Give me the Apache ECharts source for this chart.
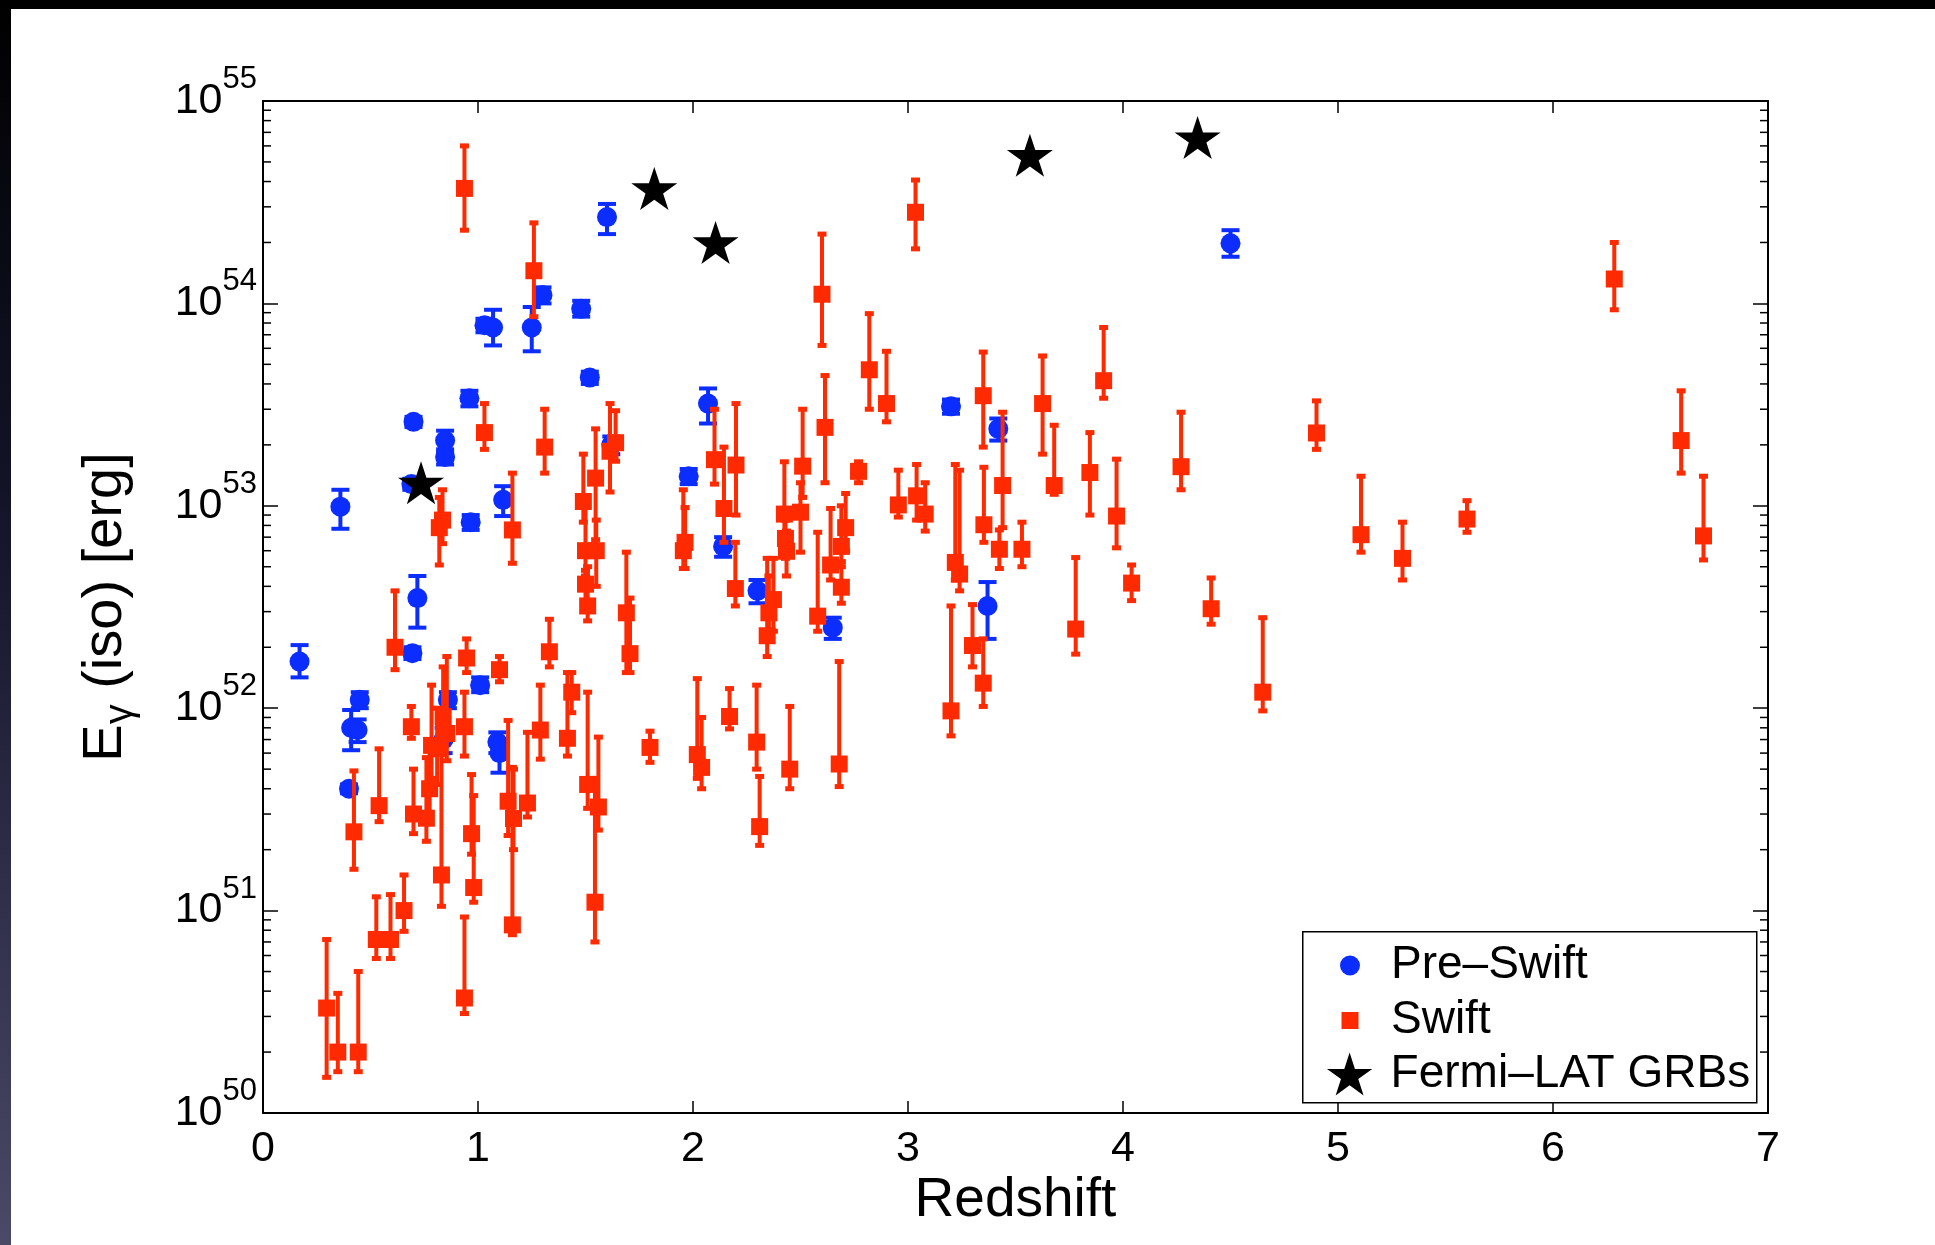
<!DOCTYPE html>
<html>
<head>
<meta charset="utf-8">
<script src="https://cdn.jsdelivr.net/npm/echarts@6/dist/echarts.min.js"></script>
<style>
html,body{margin:0;padding:0;background:#fff;}
#chart{width:1935px;height:1245px;}
</style>
</head>
<body>
<div id="chart"></div>
<script>
// ---- data: [redshift, E_iso (erg), lower error, upper error] ----
const xTickValues = [0, 1, 2, 3, 4, 5, 6, 7];
const yDecades = [50, 51, 52, 53, 54, 55];

const preSwift = [
  [0.17, 1.7e52, 1.42e52, 2.05e52],
  [0.36, 9.9e52, 7.7e52, 1.2e53],
  [0.40, 4.0e51, 3.8e51, 4.2e51],
  [0.41, 8.0e51, 6.2e51, 9.8e51],
  [0.44, 7.8e51, 6.8e51, 8.8e51],
  [0.45, 1.1e52, 1.0e52, 1.2e52],
  [0.69, 1.28e53, 1.2e53, 1.36e53],
  [0.70, 2.6e53, 2.45e53, 2.75e53],
  [0.695, 1.87e52, 1.75e52, 2.0e52],
  [0.718, 3.5e52, 2.5e52, 4.5e52],
  [0.847, 2.1e53, 1.85e53, 2.35e53],
  [0.847, 1.74e53, 1.6e53, 1.9e53],
  [0.84, 7.0e51, 6.0e51, 8.0e51],
  [0.86, 1.1e52, 1.0e52, 1.2e52],
  [0.96, 3.4e53, 3.1e53, 3.7e53],
  [0.966, 8.3e52, 7.6e52, 9.0e52],
  [1.01, 1.3e52, 1.2e52, 1.42e52],
  [1.03, 7.8e53, 7.2e53, 8.4e53],
  [1.07, 7.6e53, 6.2e53, 9.3e53],
  [1.09, 6.8e51, 6.0e51, 7.6e51],
  [1.10, 6.0e51, 4.8e51, 7.0e51],
  [1.117, 1.07e53, 8.9e52, 1.25e53],
  [1.25, 7.6e53, 5.8e53, 9.6e53],
  [1.30, 1.1e54, 1.0e54, 1.2e54],
  [1.48, 9.4e53, 8.6e53, 1.03e54],
  [1.52, 4.3e53, 4.0e53, 4.6e53],
  [1.60, 2.67e54, 2.2e54, 3.1e54],
  [1.62, 2.0e53, 1.8e53, 2.2e53],
  [1.98, 1.4e53, 1.28e53, 1.52e53],
  [2.07, 3.2e53, 2.55e53, 3.8e53],
  [2.14, 6.3e52, 5.6e52, 7.0e52],
  [2.30, 3.8e52, 3.3e52, 4.3e52],
  [2.65, 2.5e52, 2.2e52, 2.8e52],
  [3.20, 3.1e53, 2.85e53, 3.35e53],
  [3.37, 3.2e52, 2.2e52, 4.2e52],
  [3.42, 2.4e53, 2.1e53, 2.7e53],
  [4.50, 1.98e54, 1.7e54, 2.3e54]
];

const swift = [
  [0.296, 3.3e50, 1.5e50, 7.2e50],
  [0.348, 2.0e50, 1.6e50, 3.9e50],
  [0.443, 2.0e50, 1.6e50, 5.0e50],
  [0.423, 2.45e51, 1.6e51, 4.9e51],
  [0.527, 7.2e50, 5.8e50, 1.17e51],
  [0.54, 3.3e51, 2.75e51, 6.3e51],
  [0.593, 7.2e50, 5.8e50, 1.2e51],
  [0.614, 2.0e52, 1.55e52, 3.8e52],
  [0.656, 1.0e51, 7.9e50, 1.5e51],
  [0.69, 8.1e51, 7.1e51, 1.02e52],
  [0.70, 3.0e51, 2.4e51, 5.0e51],
  [0.76, 2.86e51, 2.2e51, 5.7e51],
  [0.775, 4.0e51, 2.9e51, 6.2e51],
  [0.784, 6.55e51, 4.5e51, 1.3e52],
  [0.81, 6.3e51, 4.2e51, 1.0e52],
  [0.82, 7.8e52, 5.1e52, 1.1e53],
  [0.835, 8.5e52, 6.5e52, 1.2e53],
  [0.83, 1.5e51, 1.05e51, 9.0e51],
  [0.838, 9.1e51, 6.0e51, 1.6e52],
  [0.855, 7.5e51, 5.5e51, 1.8e52],
  [0.937, 3.7e54, 2.3e54, 6.0e54],
  [0.937, 8.1e51, 5.8e51, 1.2e52],
  [0.937, 3.7e50, 3.1e50, 9.3e50],
  [0.947, 1.77e52, 1.5e52, 2.2e52],
  [0.97, 2.4e51, 1.9e51, 4.7e51],
  [0.98, 1.3e51, 1.1e51, 3.7e51],
  [1.03, 2.3e53, 1.9e53, 3.2e53],
  [1.10, 1.55e52, 1.35e52, 1.8e52],
  [1.14, 3.47e51, 2.35e51, 8.7e51],
  [1.16, 7.6e52, 5.2e52, 1.45e53],
  [1.16, 8.5e50, 7.6e50, 5.1e51],
  [1.165, 2.85e51, 2.0e51, 5.0e51],
  [1.23, 3.4e51, 2.9e51, 7.6e51],
  [1.26, 1.45e54, 8.6e53, 2.5e54],
  [1.29, 7.8e51, 5.6e51, 1.3e52],
  [1.31, 1.95e53, 1.45e53, 3.0e53],
  [1.332, 1.9e52, 1.6e52, 2.75e52],
  [1.416, 7.1e51, 5.8e51, 1.5e52],
  [1.436, 1.2e52, 9.5e51, 1.5e52],
  [1.49, 1.05e53, 8.3e52, 1.8e53],
  [1.50, 6.0e52, 4.5e52, 1.1e53],
  [1.50, 4.1e52, 3.3e52, 4.8e52],
  [1.51, 3.2e52, 2.7e52, 5.0e52],
  [1.51, 4.2e51, 3.2e51, 1.2e52],
  [1.547, 1.37e53, 6.8e52, 2.4e53],
  [1.55, 6.0e52, 4.0e52, 8.5e52],
  [1.544, 1.1e51, 7.0e50, 4.5e51],
  [1.56, 3.25e51, 2.5e51, 7.2e51],
  [1.614, 1.86e53, 1.17e53, 3.2e53],
  [1.64, 2.05e53, 1.66e53, 2.95e53],
  [1.69, 2.96e52, 1.5e52, 5.9e52],
  [1.707, 1.86e52, 1.5e52, 3.5e52],
  [1.80, 6.4e51, 5.4e51, 7.7e51],
  [1.955, 6.0e52, 4.9e52, 1.2e53],
  [1.963, 6.6e52, 4.9e52, 9.8e52],
  [2.02, 5.9e51, 4.5e51, 1.4e52],
  [2.04, 5.1e51, 4.0e51, 9.0e51],
  [2.10, 1.69e53, 1.28e53, 3.0e53],
  [2.144, 9.7e52, 6.6e52, 1.95e53],
  [2.17, 9.1e51, 7.9e51, 1.25e52],
  [2.197, 3.9e52, 3.2e52, 6.6e52],
  [2.20, 1.59e53, 9.0e52, 3.2e53],
  [2.296, 6.8e51, 5.0e51, 1.3e52],
  [2.31, 2.6e51, 2.1e51, 4.6e51],
  [2.345, 2.28e52, 1.8e52, 5.5e52],
  [2.353, 2.96e52, 2.3e52, 4.5e52],
  [2.374, 3.44e52, 2.4e52, 5.5e52],
  [2.425, 9.1e52, 6.5e52, 1.65e53],
  [2.43, 6.9e52, 5.5e52, 8.5e52],
  [2.435, 5.96e52, 4.5e52, 7.5e52],
  [2.45, 5.0e51, 4.0e51, 1.02e52],
  [2.50, 9.3e52, 5.9e52, 1.3e53],
  [2.51, 1.57e53, 1.1e53, 3.0e53],
  [2.58, 2.85e52, 2.4e52, 7.4e52],
  [2.60, 1.11e54, 6.2e53, 2.2e54],
  [2.614, 2.44e53, 1.3e53, 4.4e53],
  [2.64, 5.1e52, 4.3e52, 9.7e52],
  [2.68, 5.3e51, 4.1e51, 1.7e52],
  [2.69, 6.3e52, 5.0e52, 1.0e53],
  [2.69, 3.96e52, 3.3e52, 5.3e52],
  [2.71, 7.8e52, 6.0e52, 1.15e53],
  [2.77, 1.48e53, 1.3e53, 1.65e53],
  [2.82, 4.7e53, 3.0e53, 8.9e53],
  [2.90, 3.2e53, 2.6e53, 5.8e53],
  [2.955, 1.01e53, 8.8e52, 1.5e53],
  [3.035, 2.82e54, 1.86e54, 4.07e54],
  [3.04, 1.12e53, 8.5e52, 1.6e53],
  [3.08, 9.1e52, 7.5e52, 1.3e53],
  [3.20, 9.7e51, 7.3e51, 3.2e52],
  [3.22, 5.25e52, 4.3e52, 1.6e53],
  [3.24, 4.6e52, 3.8e52, 1.5e53],
  [3.30, 2.04e52, 1.6e52, 3.25e52],
  [3.35, 3.5e53, 1.95e53, 5.75e53],
  [3.35, 1.33e52, 1.02e52, 2.2e52],
  [3.353, 8.06e52, 6.6e52, 1.55e53],
  [3.425, 6.1e52, 4.9e52, 7.6e52],
  [3.44, 1.26e53, 7.8e52, 2.9e53],
  [3.53, 6.1e52, 5.0e52, 8.3e52],
  [3.626, 3.2e53, 1.8e53, 5.5e53],
  [3.68, 1.26e53, 1.14e53, 2.5e53],
  [3.78, 2.46e52, 1.85e52, 5.55e52],
  [3.846, 1.46e53, 9.0e52, 2.3e53],
  [3.91, 4.15e53, 3.4e53, 7.6e53],
  [3.97, 8.9e52, 6.2e52, 1.7e53],
  [4.04, 4.15e52, 3.4e52, 5.1e52],
  [4.27, 1.56e53, 1.2e53, 2.9e53],
  [4.41, 3.1e52, 2.6e52, 4.4e52],
  [4.65, 1.2e52, 9.7e51, 2.8e52],
  [4.90, 2.29e53, 1.9e53, 3.3e53],
  [5.107, 7.2e52, 5.9e52, 1.4e53],
  [5.30, 5.5e52, 4.3e52, 8.3e52],
  [5.60, 8.6e52, 7.4e52, 1.06e53],
  [6.285, 1.32e54, 9.3e53, 2.0e54],
  [6.596, 2.1e53, 1.45e53, 3.7e53],
  [6.70, 7.1e52, 5.4e52, 1.4e53]
];

const fermiLAT = [
  [0.735, 1.3e53],
  [1.82, 3.7e54],
  [2.105, 2.0e54],
  [3.567, 5.4e54],
  [4.347, 6.6e54]
];

// ---- styling ----
const FONT = "'Liberation Sans', Arial, Helvetica, sans-serif";
const BLUE = '#0b2dff';
const RED = '#ff2a00';
const STAR = 'path://M50,0 L61.2,34.5 L97.6,34.5 L68.2,55.9 L79.4,90.5 L50,69.1 L20.6,90.5 L31.8,55.9 L2.4,34.5 L38.8,34.5 Z';

const minorVals = [];
for (let i = 0; i < yDecades.length - 1; i++) {
  for (let m = 2; m <= 9; m++) minorVals.push([0, m * Math.pow(10, yDecades[i])]);
}

function errorBarRenderer(color, lineW, capHalf, capW) {
  return function (params, api) {
    const x = api.value(0);
    const lo = api.coord([x, api.value(2)]);
    const hi = api.coord([x, api.value(3)]);
    const st = { stroke: color, lineWidth: lineW };
    const cs = { stroke: color, lineWidth: capW };
    return {
      type: 'group',
      children: [
        { type: 'line', shape: { x1: lo[0], y1: lo[1], x2: hi[0], y2: hi[1] }, style: st },
        { type: 'line', shape: { x1: lo[0] - capHalf, y1: lo[1], x2: lo[0] + capHalf, y2: lo[1] }, style: cs },
        { type: 'line', shape: { x1: hi[0] - capHalf, y1: hi[1], x2: hi[0] + capHalf, y2: hi[1] }, style: cs }
      ]
    };
  };
}

const axisLineStyle = { color: '#000', width: 2 };
const tickStyle = { color: '#000', width: 1.5 };

const chart = echarts.init(document.getElementById('chart'), null, { renderer: 'canvas' });

const option = {
  animation: false,
  backgroundColor: '#fff',
  textStyle: { fontFamily: FONT, color: '#000' },
  grid: { left: 263, right: 167, top: 101, bottom: 132, containLabel: false },
  xAxis: [
    {
      type: 'value', min: xTickValues[0], max: xTickValues[xTickValues.length - 1], interval: 1,
      position: 'bottom',
      axisLine: { onZero: false, lineStyle: axisLineStyle },
      axisTick: { inside: true, length: 12, lineStyle: tickStyle },
      axisLabel: { fontSize: 43, color: '#000', margin: 12, lineHeight: 48, fontFamily: FONT },
      splitLine: { show: false },
      name: 'Redshift', nameLocation: 'middle', nameGap: 57, nameMoveOverlap: false,
      nameTextStyle: { fontSize: 55, color: '#000', lineHeight: 62, fontFamily: FONT }
    },
    {
      type: 'value', min: xTickValues[0], max: xTickValues[xTickValues.length - 1], interval: 1,
      position: 'top',
      axisLine: { onZero: false, lineStyle: axisLineStyle },
      axisTick: { inside: true, length: 12, lineStyle: tickStyle },
      axisLabel: { show: false },
      splitLine: { show: false }
    }
  ],
  yAxis: [
    {
      type: 'log', logBase: 10,
      min: Math.pow(10, yDecades[0]), max: Math.pow(10, yDecades[yDecades.length - 1]),
      splitNumber: 5, position: 'left',
      axisLine: { onZero: false, lineStyle: axisLineStyle },
      axisTick: { inside: true, length: 15, lineStyle: tickStyle },
      splitLine: { show: false },
      minorTick: { show: false },
      axisLabel: {
        margin: 6,
        formatter: function (v) {
          return '{b|10}{s|' + Math.round(Math.log10(v)) + '}';
        },
        rich: {
          b: { fontSize: 43, lineHeight: 74, color: '#000', fontFamily: FONT },
          s: { fontSize: 31, lineHeight: 32, verticalAlign: 'top', color: '#000', fontFamily: FONT }
        }
      },
      name: '{e|E}{g|γ}{t| (iso) [erg]}',
      nameLocation: 'middle', nameGap: 122,
      nameTextStyle: {
        rich: {
          e: { fontSize: 56, lineHeight: 70, color: '#000', fontFamily: FONT },
          g: { fontSize: 40, lineHeight: 28, verticalAlign: 'bottom', color: '#000', fontFamily: FONT },
          t: { fontSize: 56, lineHeight: 70, color: '#000', fontFamily: FONT }
        }
      }
    },
    {
      type: 'log', logBase: 10,
      min: Math.pow(10, yDecades[0]), max: Math.pow(10, yDecades[yDecades.length - 1]),
      splitNumber: 5, position: 'right',
      axisLine: { onZero: false, lineStyle: axisLineStyle },
      axisTick: { inside: true, length: 15, lineStyle: tickStyle },
      axisLabel: { show: false },
      splitLine: { show: false }
    }
  ],
  legend: [
    {
      z: 60, selectedMode: false, orient: 'vertical', padding: 0,
      left: 1340, top: 938.5, itemWidth: 20, itemHeight: 20,
      data: [{ name: 'Pre–Swift', icon: 'circle' }],
      textStyle: { fontSize: 46, lineHeight: 54, color: '#000', fontFamily: FONT, padding: [0, 0, 0, 26] }
    },
    {
      z: 60, selectedMode: false, orient: 'vertical', padding: 0,
      left: 1341.5, top: 993.5, itemWidth: 17, itemHeight: 17,
      data: [{ name: 'Swift', icon: 'rect' }],
      textStyle: { fontSize: 46, lineHeight: 54, color: '#000', fontFamily: FONT, padding: [0, 0, 0, 27.5] }
    },
    {
      z: 60, selectedMode: false, orient: 'vertical', padding: 0,
      left: 1327, top: 1047, itemWidth: 46, itemHeight: 43,
      data: [{ name: 'Fermi–LAT GRBs', icon: STAR }],
      textStyle: { fontSize: 46, lineHeight: 54, color: '#000', fontFamily: FONT, padding: [0, 0, 0, 13] }
    }
  ],
  graphic: [
    { type: 'rect', z: 50, left: 1302, top: 931, shape: { width: 454, height: 171 },
      style: { fill: '#fff', stroke: '#000', lineWidth: 1.5 } },
    { type: 'rect', z: 100, left: 0, top: 0, shape: { width: 1935, height: 9 }, style: { fill: '#000' } },
    { type: 'rect', z: 100, left: 0, top: 0, shape: { width: 11, height: 1245 },
      style: { fill: new echarts.graphic.LinearGradient(0, 0, 0, 1, [
        { offset: 0, color: '#000000' },
        { offset: 0.45, color: '#16162e' },
        { offset: 1, color: '#4a4a68' }
      ]) } }
  ],
  series: [
    {
      type: 'custom', name: 'minorTicks', silent: true, z: 1,
      xAxisIndex: 0, yAxisIndex: 0,
      data: minorVals, encode: { x: 0, y: 1 },
      renderItem: function (params, api) {
        const v = api.value(1);
        const pl = api.coord([xTickValues[0], v]);
        const pr = api.coord([xTickValues[xTickValues.length - 1], v]);
        return {
          type: 'group',
          children: [
            { type: 'line', shape: { x1: pl[0], y1: pl[1], x2: pl[0] + 8, y2: pl[1] }, style: { stroke: '#000', lineWidth: 1.5 } },
            { type: 'line', shape: { x1: pr[0], y1: pr[1], x2: pr[0] - 8, y2: pr[1] }, style: { stroke: '#000', lineWidth: 1.5 } }
          ]
        };
      }
    },
    {
      type: 'custom', name: 'preSwiftErr', silent: true, z: 2,
      data: preSwift, encode: { x: 0, y: [1, 2, 3] },
      renderItem: errorBarRenderer(BLUE, 4, 9, 4)
    },
    {
      type: 'scatter', name: 'Pre–Swift', z: 3,
      data: preSwift, encode: { x: 0, y: 1 },
      symbol: 'circle', symbolSize: 20,
      itemStyle: { color: BLUE, opacity: 1 }
    },
    {
      type: 'custom', name: 'swiftErr', silent: true, z: 4,
      data: swift, encode: { x: 0, y: [1, 2, 3] },
      renderItem: errorBarRenderer(RED, 4, 4.5, 5)
    },
    {
      type: 'scatter', name: 'Swift', z: 5,
      data: swift, encode: { x: 0, y: 1 },
      symbol: 'rect', symbolSize: 17,
      itemStyle: { color: RED, opacity: 1 }
    },
    {
      type: 'scatter', name: 'Fermi–LAT GRBs', z: 6,
      data: fermiLAT, encode: { x: 0, y: 1 },
      symbol: STAR, symbolSize: [46, 43],
      itemStyle: { color: '#000', opacity: 1 }
    }
  ]
};

chart.setOption(option);
</script>
</body>
</html>
